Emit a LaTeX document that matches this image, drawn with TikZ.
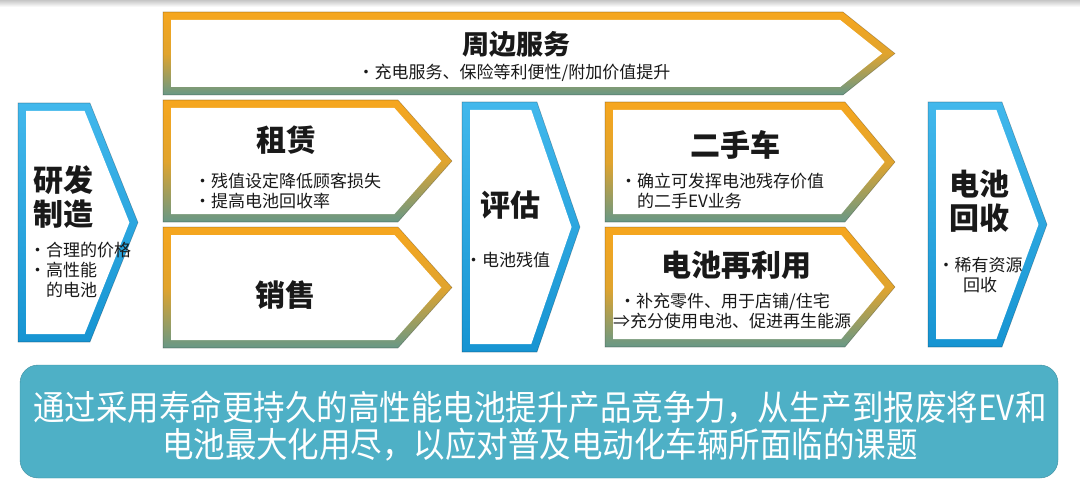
\documentclass[tikz,border=0pt]{standalone}
\usepackage{fontspec}
\setmainfont{Noto Sans CJK SC}
\usepackage{tikz}
\usetikzlibrary{positioning, calc}

\definecolor{bOrange}{RGB}{246,166,30}
\definecolor{bGreen}{RGB}{104,152,134}
\definecolor{bBlueT}{RGB}{66,184,236}
\definecolor{bBlueB}{RGB}{22,148,210}
\definecolor{bTeal}{RGB}{78,176,198}

\tikzset{
  warm/.style={top color=bOrange, bottom color=bGreen, middle color=bOrange!85!bGreen},
  cool/.style={top color=bBlueT, bottom color=bBlueB},
  title/.style={font=\bfseries\fontsize{30}{34}\selectfont, inner sep=0pt, text=black!90},
  note/.style={font=\fontsize{17}{20}\selectfont, align=left, inner sep=0pt, anchor=west, text=black!90},
}

\def\bw{8}
%// chevron: left, top, bottom, end of flat edge, tip, shading
\newcommand{\flowchev}[6]{%
  \pgfmathsetmacro\cM{(#2+#3)/2}
  \pgfmathsetmacro\cdx{#5-#4}
  \pgfmathsetmacro\cdy{\cM-#2}
  \pgfmathsetmacro\clen{veclen(\cdx,\cdy)}
  \pgfmathsetmacro\cFi{#4-\bw*(\clen-\cdx)/\cdy}
  \pgfmathsetmacro\cPi{#5-\bw*\clen/\cdy}
  \shade[#6] (#1,#2) -- (#4,#2) -- (#5,\cM) -- (#4,#3) -- (#1,#3) -- cycle;
  \draw[black, opacity=0.25, line width=0.6pt] (#1,#2) -- (#4,#2) -- (#5,\cM) -- (#4,#3) -- (#1,#3) -- cycle;
  \fill[white] (#1+\bw,#2+\bw) -- (\cFi,#2+\bw) -- (\cPi,\cM) -- (\cFi,#3-\bw) -- (#1+\bw,#3-\bw) -- cycle;
}

\begin{document}
\begin{tikzpicture}[x=1pt, y=-1pt]

\useasboundingbox (0,0) rectangle (1080,487);
\shade[top color=gray!45, bottom color=white] (0,0) rectangle (1080,7);

%//orange chevrons
\foreach \l/\t/\b/\f/\p in {163/12/95/843/895, 163/100/222/398/452, 163/227/348/398/452, 605/102/222/845/895, 605/227/347/845/895}
{\flowchev{\l}{\t}{\b}{\f}{\p}{warm}}

%//blue chevrons
\foreach \l/\t/\b/\f/\p in {18/103/342/90/138, 462/102/352/537/580, 928/102/347/1002/1047}
{\flowchev{\l}{\t}{\b}{\f}{\p}{cool}}

%//top bar
\node [title, font=\bfseries\fontsize{27}{30}\selectfont] (svc) at (516,44) {周边服务};
\node [note, anchor=center] (svcnote) at (514,73) {·充电服务、保险等利便性/附加价值提升};

%//left column
\node [title, align=left, anchor=west] (rd) at (33,197) {研发\\制造};
\node [note] (rdnote) at (29,270) {·合理的价格\\·高性能\\\phantom{·}的电池};

\node [title] (lease) at (286,140) {租赁};
\node [note] (leasenote) at (194,191) {·残值设定降低顾客损失\\·提高电池回收率};

\node [title] (sale) at (285,295) {销售};

\node [title] (eval) at (510,205) {评估};
\node [note] (evalnote) at (465,260) {·电池残值};

\node [title] (used) at (735,145) {二手车};
\node [note] (usednote) at (620,191) {·确立可发挥电池残存价值\\\phantom{·}的二手EV业务};

\node [title] (reuse) at (736,265) {电池再利用};
\node [note] (reusenote) at (613,311) {\hspace*{6pt}·补充零件、用于店铺/住宅\\⇒充分使用电池、促进再生能源};

\node [title, align=center] (recyc) at (979,201) {电池\\回收};
\node [note, align=center, anchor=center] (recycnote) at (980,275) {·稀有资源\\回收};

%//goal
\node [draw=bTeal!80!black, fill=bTeal, rounded corners=18pt, minimum width=1038pt, minimum height=113pt, inner sep=0pt] (goal) at (539,421.5) {};
\node [font=\fontsize{31.5}{37}\selectfont, align=center, text=white, inner sep=0pt] (goaltext) at (540,426.5)
  {\scalebox{1}[1.1]{通过采用寿命更持久的高性能电池提升产品竞争力，从生产到报废将EV和}\\\scalebox{1}[1.1]{电池最大化用尽，以应对普及电动化车辆所面临的课题}};

\end{tikzpicture}
\end{document}
